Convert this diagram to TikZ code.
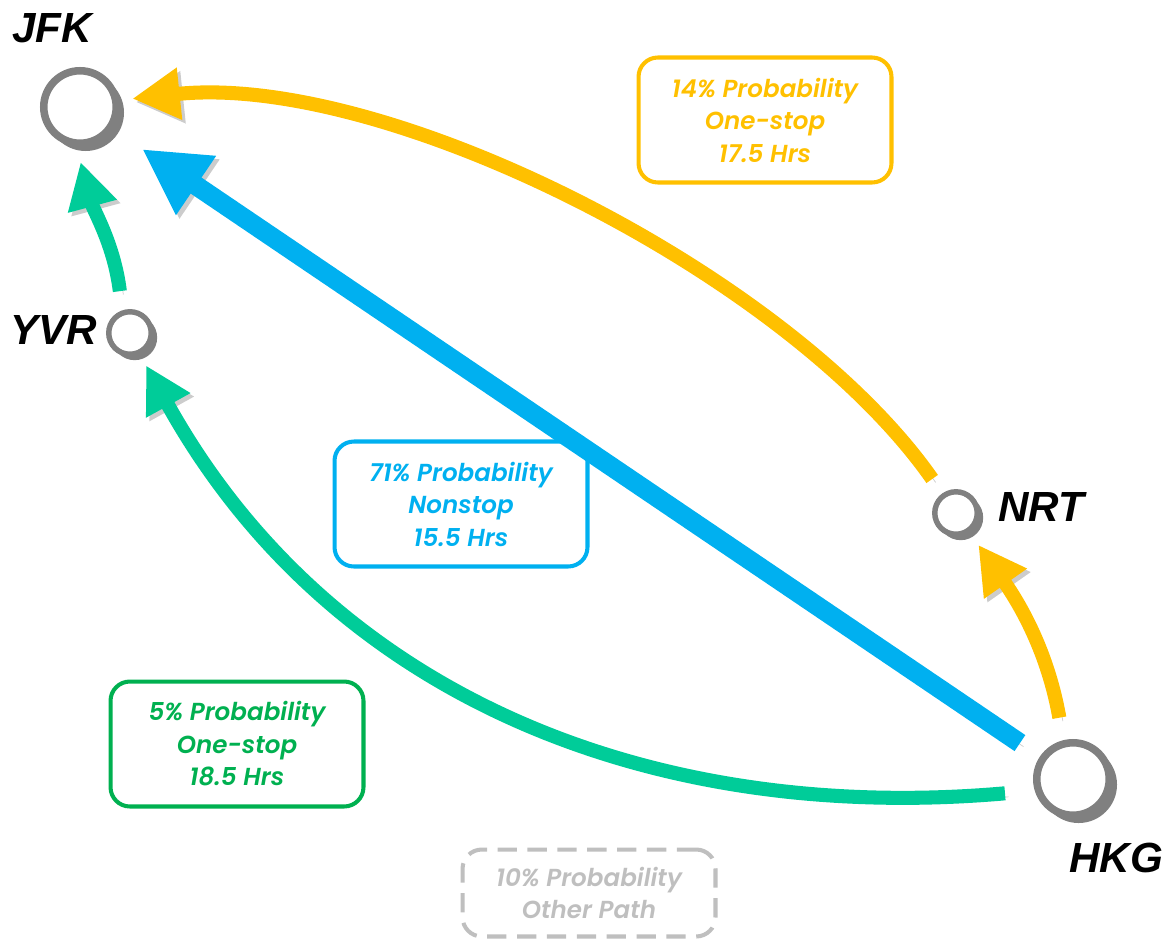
\documentclass[tikz,border=0pt]{standalone}
\usepackage{fontspec}
\setmainfont{Liberation Sans}
\newfontfamily\boxfont{Poppins SemiBold}
\usetikzlibrary{arrows.meta, shadows}

\definecolor{routeyellow}{HTML}{FFC000}
\definecolor{routeblue}{HTML}{00B0F0}
\definecolor{routegreen}{HTML}{00CC99}
\definecolor{boxgreen}{HTML}{00B050}
\definecolor{ringgray}{HTML}{808080}
\definecolor{othergray}{HTML}{BFBFBF}

\tikzset{
  bigport/.style={circle, draw=ringgray, fill=white, inner sep=0pt, line width=4.3pt, minimum size=1.45cm,
    drop shadow={shadow xshift=3pt, shadow yshift=-3pt, shadow scale=1.06, fill=ringgray, opacity=1}},
  smallport/.style={circle, draw=ringgray, fill=white, inner sep=0pt, line width=3.1pt, minimum size=0.85cm,
    drop shadow={shadow xshift=2.5pt, shadow yshift=-2.5pt, shadow scale=1.06, fill=ringgray, opacity=1}},
  citylabel/.style={font=\bfseries\itshape\fontsize{24}{28}\selectfont},
  infobox/.style={draw=#1, text=#1, line width=2.3pt, rounded corners=11pt, align=center,
    minimum width=5.06cm, minimum height=2.5cm, inner sep=0pt,
    font=\boxfont\itshape\fontsize{14}{18.5}\selectfont},
  flow/.style={line width=#1, preaction={draw=black, opacity=0.2, transform canvas={xshift=2pt, yshift=-2pt}}},
}

\begin{document}
\begin{tikzpicture}[x=0.02cm, y=0.02cm]
    \useasboundingbox (0,0) rectangle (1165,-943);

    % Airports
    \node[bigport] (jfk) at (80,-107) {};
    \node[smallport] (yvr) at (130,-333) {};
    \node[smallport] (nrt) at (956,-513) {};
    \node[bigport] (hkg) at (1073,-779) {};

    % Airport codes
    \node[citylabel] (jfktext) at (52,-28) {JFK};
    \node[citylabel] (yvrtext) at (54,-330) {YVR};
    \node[citylabel] (nrttext) at (1041,-507) {NRT};
    \node[citylabel] (hkgtext) at (1116,-858) {HKG};

    % Probability boxes
    \node[infobox=routeyellow] (viatokyo) at (765,-120) {14\% Probability\\One-stop\\17.5 Hrs};
    \node[infobox=routeblue] (nonstop) at (461,-504) {71\% Probability\\Nonstop\\15.5 Hrs};
    \node[infobox=boxgreen] (viavancouver) at (237,-744) {5\% Probability\\One-stop\\18.5 Hrs};
    \node[infobox=othergray, dash pattern=on 11pt off 6pt, minimum height=1.74cm] (otherpath) at (589,-893) {10\% Probability\\Other Path};

    % Routes HKG -> JFK
    \draw[flow=11pt, routeblue, -{Triangle[width=38pt, length=37pt]}, shorten <=13.7pt, shorten >=20pt] (hkg) -- (jfk);
    \draw[flow=8pt, routeyellow, -{Triangle[width=28pt, length=27pt]}, shorten <=13pt, shorten >=8.5pt]
        (hkg.104) to[out=100, in=-55] (nrt.-55);
    \draw[flow=8pt, routeyellow, -{Triangle[width=28pt, length=27pt]}, shorten <=10pt, shorten >=7.4pt]
        (nrt.125) to[out=125, in=6, looseness=0.75] (jfk.10);
    \draw[flow=8pt, routegreen, -{Triangle[width=27pt, length=26pt]}, shorten <=17pt, shorten >=7pt]
        (hkg.197) to[out=185, in=-61] (yvr.295);
    \draw[flow=8pt, routegreen, -{Triangle[width=27pt, length=26pt]}, shorten <=11pt, shorten >=9pt]
        (yvr.109) to[out=97, in=-75] (jfk.265);
\end{tikzpicture}
\end{document}
